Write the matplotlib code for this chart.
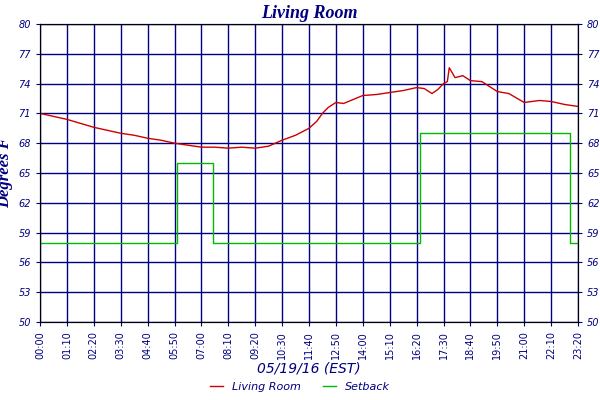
import matplotlib.pyplot as plt
import numpy as np

# minutes since midnight
room_t = [0, 35, 70, 105, 140, 175, 210, 245, 280, 315, 350, 385, 420, 455, 490, 525, 560, 595,
          630, 665, 700, 720, 735, 750, 770, 790, 840, 875, 910, 945, 980, 1000, 1020, 1035, 1050,
          1060, 1065, 1080, 1100, 1120, 1150, 1190, 1220, 1260, 1300, 1330, 1365, 1400]
room_v = [71.0, 70.7, 70.4, 70.0, 69.6, 69.3, 69.0, 68.8, 68.5, 68.3, 68.0, 67.8, 67.6, 67.6, 67.5, 67.6, 67.5, 67.7,
          68.3, 68.8, 69.5, 70.2, 71.0, 71.6, 72.1, 72.0, 72.8, 72.9, 73.1, 73.3, 73.6, 73.5, 73.0, 73.4, 74.0,
          74.2, 75.6, 74.6, 74.8, 74.3, 74.2, 73.2, 73.0, 72.1, 72.3, 72.2, 71.9, 71.7]

setback_t = [0, 357, 357, 450, 450, 990, 990, 1380, 1380, 1400]
setback_v = [58, 58, 66, 66, 58, 58, 69, 69, 58, 58]

ticks = list(range(0, 1400, 70)) + [1400]
tick_labels = [f"{m // 60:02d}:{m % 60:02d}" for m in ticks]
yticks = list(range(50, 81, 3))

navy = '#000080'
fig = plt.figure(figsize=(6, 4), dpi=100)
ax = fig.add_axes([40 / 600, 78 / 400, 538 / 600, 298 / 400])

ax.plot(room_t, room_v, color='#cc0000', lw=1, label='Living Room')
ax.plot(setback_t, setback_v, color='#00bb00', lw=1, label='Setback')

ax.set_xlim(0, 1400)
ax.set_ylim(50, 80)
ax.set_xticks(ticks)
ax.set_xticklabels(tick_labels, rotation=90, fontsize=7, color=navy)
ax.set_yticks(yticks)
ax.set_yticklabels(yticks, fontsize=7, color=navy, style='italic')
ax.grid(True, color=navy, lw=1)
for s in ax.spines.values():
    s.set_color(navy)
ax.tick_params(colors=navy, length=3)

ax2 = ax.twinx()
ax2.set_ylim(50, 80)
ax2.set_yticks(yticks)
ax2.set_yticklabels(yticks, fontsize=7, color=navy, style='italic')
ax2.tick_params(colors=navy, length=3)

ax.set_title('Living Room', fontsize=13, color=navy, style='italic', weight='bold',
             family='Liberation Serif', pad=4)
ax.set_ylabel('Degrees F', fontsize=12, color=navy, style='italic', weight='bold',
              family='Liberation Serif')
ax.set_xlabel('05/19/16 (EST)', fontsize=10, color=navy, style='italic', family='DejaVu Sans',
              labelpad=2)

fig.legend(loc='lower center', ncol=2, frameon=False,
           prop={'style': 'italic', 'size': 8}, labelcolor=navy, bbox_to_anchor=(0.5, -0.005),
           handlelength=1.2)

fig.savefig('out.png')
